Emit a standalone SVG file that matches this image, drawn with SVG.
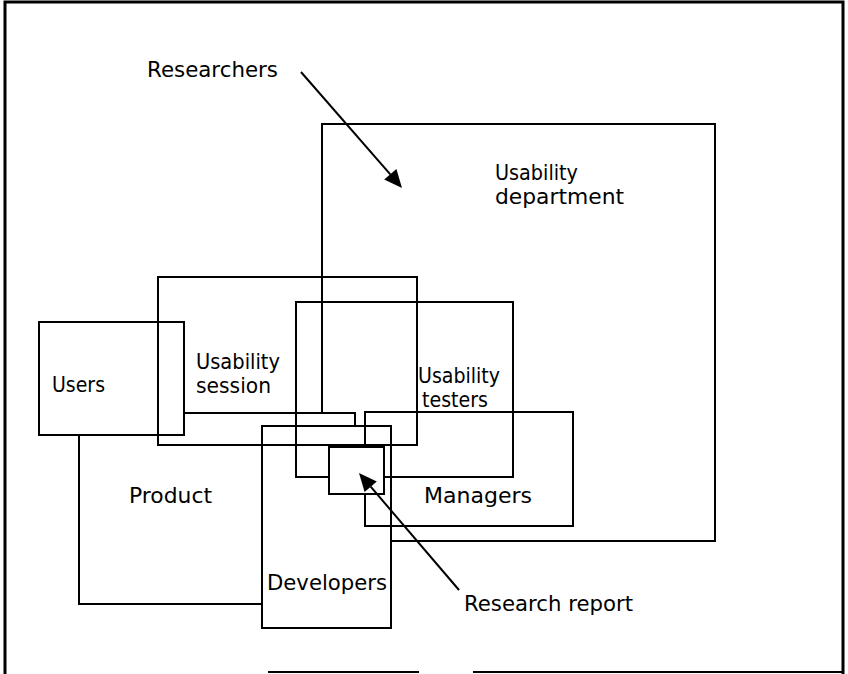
<svg xmlns="http://www.w3.org/2000/svg" width="848" height="674" viewBox="0 0 848 674">
<defs>
<style>
.b{fill:none;stroke:#000;stroke-width:2}
.t{font-family:"DejaVu Sans","Liberation Sans",Arial,sans-serif;font-size:22px;fill:#000}
.c{stroke:#000;stroke-width:2;fill:none}
.h{fill:#000;stroke:none}
</style>
</defs>
<rect width="848" height="674" fill="#fff"/>
<g id="frame">
<path d="M5,674 V2 H843 V674" fill="none" stroke="#000" stroke-width="3"/>
<path d="M268,672 H419 M473,672 H843" stroke="#000" stroke-width="2"/>
</g>
<g id="usability-department">
<path class="b" d="M322,413 V124 H715 V541 H392"/>
<text class="t" x="495" y="180" textLength="83" lengthAdjust="spacingAndGlyphs">Usability</text>
<text class="t" x="495" y="204" textLength="129" lengthAdjust="spacingAndGlyphs">department</text>
</g>
<g id="usability-session">
<rect class="b" x="158" y="277" width="259" height="168"/>
<text class="t" x="196" y="369" textLength="84" lengthAdjust="spacingAndGlyphs">Usability</text>
<text class="t" x="196" y="393" textLength="75" lengthAdjust="spacingAndGlyphs">session</text>
</g>
<g id="users">
<rect class="b" x="39" y="322" width="145" height="113"/>
<text class="t" x="52" y="392" textLength="53" lengthAdjust="spacingAndGlyphs">Users</text>
</g>
<g id="product">
<path class="b" d="M184,413 H355 V426 M79,435 V604 H262"/>
<text class="t" x="129" y="503" textLength="83" lengthAdjust="spacingAndGlyphs">Product</text>
</g>
<g id="usability-testers">
<rect class="b" x="296" y="302" width="217" height="175"/>
<text class="t" x="418" y="383" textLength="82" lengthAdjust="spacingAndGlyphs">Usability</text>
<text class="t" x="422" y="407" textLength="66" lengthAdjust="spacingAndGlyphs">testers</text>
</g>
<g id="managers">
<rect class="b" x="365" y="412" width="208" height="114"/>
<text class="t" x="424" y="503" textLength="108" lengthAdjust="spacingAndGlyphs">Managers</text>
</g>
<g id="developers">
<rect class="b" x="262" y="426" width="129" height="202"/>
<text class="t" x="267" y="590" textLength="120" lengthAdjust="spacingAndGlyphs">Developers</text>
</g>
<g id="research-report">
<rect x="329" y="447" width="55" height="47" fill="#fff" stroke="#000" stroke-width="2"/>
<text class="t" x="464" y="611" textLength="169" lengthAdjust="spacingAndGlyphs">Research report</text>
</g>
<g id="researchers">
<text class="t" x="147" y="77" textLength="131" lengthAdjust="spacingAndGlyphs">Researchers</text>
</g>
<g id="connectors">
<line class="c" x1="301" y1="72" x2="390.3" y2="174.3"/>
<path class="h" d="M402,188 L384.2,179.5 L396.4,169.1 z"/>
<line class="c" x1="459" y1="590" x2="370.7" y2="486.7"/>
<path class="h" d="M359,473 L376.8,481.5 L364.6,491.9 z"/>
</g>
</svg>
